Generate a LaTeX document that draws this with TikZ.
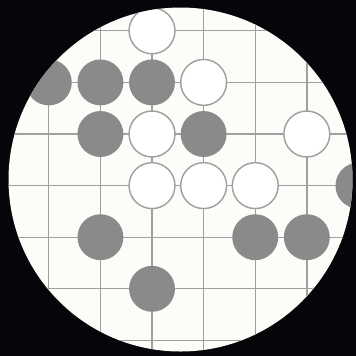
\documentclass[tikz,border=0pt]{standalone}
\definecolor{stonegray}{RGB}{138,138,138}
\definecolor{linegray}{RGB}{160,160,160}
\definecolor{boardwhite}{RGB}{252,252,249}
\definecolor{bgblack}{RGB}{6,6,10}

\begin{document}
\begin{tikzpicture}[
    x=1cm,
    y=-1cm,
    gridline/.style={draw=linegray, line width=0.75pt},
    whitestone/.style={circle, draw=linegray, line width=0.8pt,
        fill=white, minimum size=0.89cm, inner sep=0pt},
    graystone/.style={circle, fill=stonegray,
        minimum size=0.89cm, inner sep=0pt}
]

% Tlo
\fill[bgblack]
    (-0.946,-0.597)
    rectangle
    (5.953,6.302);
\useasboundingbox
    (-0.946,-0.597)
    rectangle
    (5.953,6.302);

% Plansza w kole
\fill[boardwhite]
    (2.552,2.882) circle (3.333);

\begin{scope}
\clip (2.552,2.882) circle (3.333);

% Siatka
\draw[gridline]
    (-1,-1) grid (7,7);

% Kamienie biale
\node[whitestone] (w20) at (2,0) {};
\node[whitestone] (w31) at (3,1) {};
\node[whitestone] (w22) at (2,2) {};
\node[whitestone] (w52) at (5,2) {};
\node[whitestone] (w23) at (2,3) {};
\node[whitestone] (w33) at (3,3) {};
\node[whitestone] (w43) at (4,3) {};

% Kamienie szare
\node[graystone] (g01) at (0,1) {};
\node[graystone] (g11) at (1,1) {};
\node[graystone] (g21) at (2,1) {};
\node[graystone] (g12) at (1,2) {};
\node[graystone] (g32) at (3,2) {};
\node[graystone] (g63) at (6,3) {};
\node[graystone] (g14) at (1,4) {};
\node[graystone] (g44) at (4,4) {};
\node[graystone] (g54) at (5,4) {};
\node[graystone] (g25) at (2,5) {};
\end{scope}

\end{tikzpicture}
\end{document}
